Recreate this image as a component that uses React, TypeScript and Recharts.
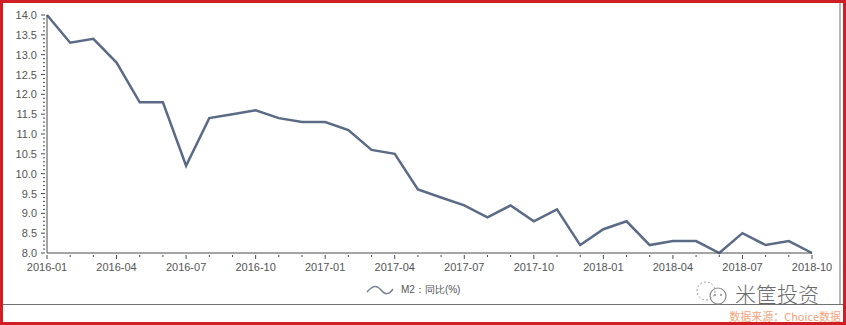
import { LineChart, Line, XAxis, YAxis } from "recharts";

const months = [
  "2016-01", "2016-02", "2016-03", "2016-04", "2016-05", "2016-06",
  "2016-07", "2016-08", "2016-09", "2016-10", "2016-11", "2016-12",
  "2017-01", "2017-02", "2017-03", "2017-04", "2017-05", "2017-06",
  "2017-07", "2017-08", "2017-09", "2017-10", "2017-11", "2017-12",
  "2018-01", "2018-02", "2018-03", "2018-04", "2018-05", "2018-06",
  "2018-07", "2018-08", "2018-09", "2018-10",
];

const m2Yoy = [
  14.0, 13.3, 13.4, 12.8, 11.8, 11.8,
  10.2, 11.4, 11.5, 11.6, 11.4, 11.3,
  11.3, 11.1, 10.6, 10.5, 9.6, 9.4,
  9.2, 8.9, 9.2, 8.8, 9.1, 8.2,
  8.6, 8.8, 8.2, 8.3, 8.3, 8.0,
  8.5, 8.2, 8.3, 8.0,
];

// minor ticks every 0.1, labels on the 0.5 marks
const yTicks = Array.from({ length: 61 }, (_, i) => +(8 + i * 0.1).toFixed(1));

const data = months.map((m, i) => ({ month: m, m2: m2Yoy[i] }));

const LINE = "#5b6b86";
const AXIS = "#4a4a4a";
const TXT = "#555";
const FONT = "'Liberation Sans', Arial, sans-serif";

function XTick(props: any) {
  const { x, y, index, payload } = props;
  const major = index % 3 === 0;
  return (
    <g>
      <line x1={x} x2={x} y1={y - 8} y2={y - 8 + (major ? 4 : 2)} stroke={AXIS} />
      {major && (
        <text x={x} y={y + 8} textAnchor="middle" fontSize={11} fill={TXT} fontFamily={FONT}>
          {payload.value}
        </text>
      )}
    </g>
  );
}

function YTick(props: any) {
  const { x, y, payload } = props;
  const v = payload.value as number;
  const major = Math.abs(v * 2 - Math.round(v * 2)) < 1e-6;
  return (
    <g>
      <line x1={x + 8} x2={x + 8 - (major ? 4 : 2)} y1={y} y2={y} stroke={AXIS} />
      {major && (
        <text x={x} y={y} dy={4} textAnchor="end" fontSize={11} fill={TXT} fontFamily={FONT}>
          {v.toFixed(1)}
        </text>
      )}
    </g>
  );
}

export default function App() {
  return (
    <div
      style={{
        position: "fixed",
        left: 0,
        top: 0,
        width: 846,
        height: 325,
        background: "#fff",
        boxSizing: "border-box",
        border: "3px solid #cf1f24",
        overflow: "hidden",
      }}
    >
      <div style={{ position: "absolute", left: -3, top: -3 }}>
        <LineChart width={846} height={325} data={data} margin={{ top: 15, right: 34, bottom: 42, left: 7 }}>
          <XAxis
            dataKey="month"
            interval={0}
            height={30}
            tickLine={false}
            axisLine={{ stroke: AXIS }}
            tick={<XTick />}
            tickSize={8}
          />
          <YAxis
            domain={[8, 14]}
            ticks={yTicks}
            interval={0}
            width={40}
            tickLine={false}
            axisLine={{ stroke: AXIS }}
            tick={<YTick />}
            tickSize={8}
          />
          <Line
            type="linear"
            dataKey="m2"
            stroke={LINE}
            strokeWidth={2.5}
            dot={false}
            isAnimationActive={false}
          />
        </LineChart>
      </div>
      {/* legend */}
      <div
        style={{
          position: "absolute",
          left: 362,
          top: 280,
          display: "flex",
          alignItems: "center",
          fontFamily: FONT,
          fontSize: 10,
          color: TXT,
        }}
      >
        <svg width={30} height={12} style={{ marginRight: 6 }}>
          <path d="M2 8 C 8 1, 12 1, 16 6 S 24 11, 28 5" fill="none" stroke="#7a8397" strokeWidth={1.5} />
        </svg>
        <span>M2：同比(%)</span>
      </div>
      {/* inner frame lines */}
      <div style={{ position: "absolute", left: 0, right: 0, top: 301, height: 0, borderTop: "1.5px solid #707070" }} />
      <div style={{ position: "absolute", right: 2, top: 0, height: 301, width: 0, borderLeft: "2px solid #b8b8b8" }} />
      {/* watermark */}
      <div style={{ position: "absolute", left: 690, top: 275, display: "flex", alignItems: "center", color: "#6a6a6a" }}>
        <svg width={40} height={26}>
          <circle cx={13} cy={11} r={9} fill="none" stroke="#9a9a9a" strokeWidth={1} strokeDasharray="2 2" />
          <circle cx={25} cy={16} r={8} fill="none" stroke="#8a8a8a" strokeWidth={1.2} />
          <circle cx={22} cy={15} r={1} fill="#8a8a8a" />
          <circle cx={28} cy={15} r={1} fill="#8a8a8a" />
        </svg>
        <span style={{ fontFamily: "'Noto Sans CJK SC', sans-serif", fontSize: 21, fontWeight: 300, marginLeft: 2 }}>
          米筐投资
        </span>
      </div>
      {/* source */}
      <div
        style={{
          position: "absolute",
          right: 2,
          top: 305,
          fontFamily: "'Noto Sans CJK SC', sans-serif",
          fontSize: 11,
          color: "#f2a47c",
        }}
      >
        数据来源：Choice数据
      </div>
    </div>
  );
}
